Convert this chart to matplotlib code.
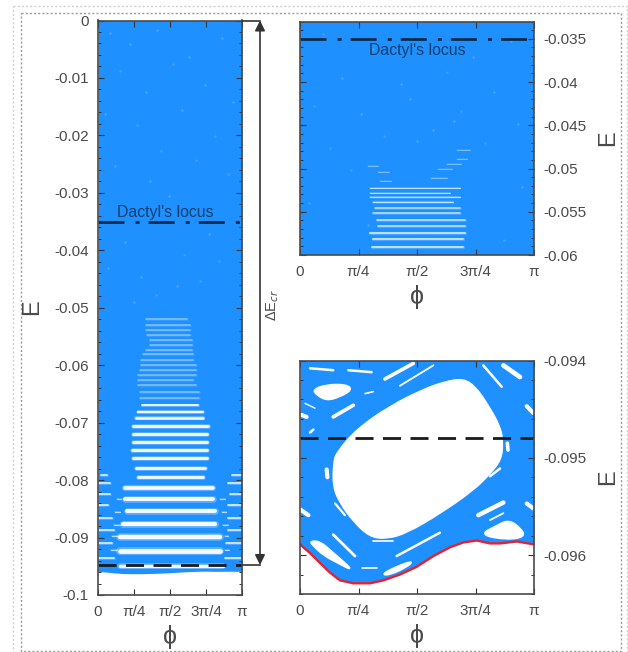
import numpy as np
from matplotlib import pyplot as plt
from matplotlib.lines import Line2D
from matplotlib.patches import PathPatch
from matplotlib.path import Path

plt.rcParams['font.family'] = ['Liberation Sans', 'DejaVu Sans']
plt.rcParams['axes.unicode_minus'] = False
plt.rcParams['lines.scale_dashes'] = False

W, H = 628, 652
BLUE = '#1e90ff'
GREY = '#4a4a4a'
DARK = '#10406e'

# x axis ticks, phi in units of pi
phi_ticks = [0, 0.25, 0.5, 0.75, 1]
phi_labels = ['0', 'π/4', 'π/2', '3π/4', 'π']

# y axis ticks
left_ticks = [0, -0.01, -0.02, -0.03, -0.04, -0.05, -0.06, -0.07, -0.08, -0.09, -0.1]
left_labels = ['0', '-0.01', '-0.02', '-0.03', '-0.04', '-0.05', '-0.06', '-0.07', '-0.08', '-0.09', '-0.1']
top_ticks = [-0.035, -0.04, -0.045, -0.05, -0.055, -0.06]
top_labels = ['-0.035', '-0.04', '-0.045', '-0.05', '-0.055', '-0.06']
bot_ticks = [-0.094, -0.095, -0.096]
bot_labels = ['-0.094', '-0.095', '-0.096']

dactyl_E = -0.035
ground_E = -0.0948

# lower edge of the chaotic sea (red curve)
edge_phi = [0, .043, .085, .128, .171, .228, .299, .356, .427, .499, .570, .641, .698, .755, .812, .855, .926, 1]
edge_E = [-.09589, -.09598, -.09608, -.09618, -.09626, -.09629, -.09629, -.09626, -.09620,
          -.09612, -.09601, -.09592, -.09587, -.09585, -.09588, -.09588, -.09586, -.09589]

# left panel, strong white bands: E, phi start, phi end
band_E = [-.06693, -.06809, -.06925, -.07058, -.07198, -.07331, -.07476, -.07621, -.07784, -.07940,
          -.08143, -.08335, -.08538, -.08770, -.08996, -.09234, -.09490]
band_a = [.303, .280, .262, .245, .245, .241, .238, .241, .262, .275, .188, .188, .199, .176, .153, .153, .15]
band_b = [.697, .731, .731, .766, .755, .755, .755, .755, .743, .731, .800, .800, .813, .813, .847, .847, .87]
band_lw = [1.3, 1.6, 1.8, 2.0, 2.0, 2.0, 2.0, 2.0, 2.0, 2.0, 2.6, 2.8, 2.8, 3.0, 3.2, 3.4, 2.4]

# left panel, faint bands
faint_E = [-.05196, -.05300, -.05387, -.05474, -.05561, -.05648, -.05735, -.05810, -.05909, -.05996,
           -.06083, -.06170, -.06257, -.06344, -.06460, -.06565]
faint_a = [.33, .33, .33, .34, .36, .36, .33, .31, .30, .30, .29, .28, .28, .28, .29, .29]
faint_b = [.62, .64, .64, .64, .65, .65, .65, .66, .66, .68, .68, .68, .66, .68, .70, .70]

# left panel, short streaks near both edges
side_E = [-.0791, -.08056, -.08240, -.08433, -.08654, -.08869, -.09100, -.09361]
side_a = [.02, .00, .01, .00, .00, .00, .00, .00]
side_b = [.06, .08, .08, .07, .10, .11, .10, .11]
side_c = [.93, .90, .92, .90, .90, .90, .89, .88]

# left panel, streaks between the edge ones and the bands
mid_E = [-.08330, -.08560, -.08780, -.08970, -.09220]
mid_a = [.13, .12, .11, .10, .09]
mid_b = [.16, .15, .15, .13, .13]
mid_c = [.85, .86, .87, .88, .88]
mid_d = [.88, .89, .90, .90, .91]

# top right panel, white bands
zoom_E = [-.05225, -.05282, -.05335, -.05386, -.05462, -.05520, -.05597, -.05666, -.05750, -.05819, -.05904]
zoom_a = [.299, .299, .299, .313, .320, .313, .328, .335, .299, .313, .306]
zoom_b = [.684, .641, .684, .655, .684, .684, .705, .705, .705, .698, .698]
zoom_lw = [.8, .8, .9, 1, 1.1, 1.1, 1.2, 1.2, 1.4, 1.4, 1.4]

# top right panel, fragments above the bands
frag_E = [-.04971, -.05040, -.05147, -.04790, -.04886, -.04944, -.05000, -.05113]
frag_a = [.292, .335, .340, .670, .670, .630, .590, .560]
frag_b = [.335, .380, .390, .725, .715, .690, .650, .630]

# light specks
speck_phi = [.08, .22, .41, .63, .86, .15, .52, .74, .33, .94, .05, .27, .58, .81, .44,
             .12, .68, .36, .90, .49, .19, .77, .60, .07, .30, .84, .55, .40, .71, .25]
speck_E = [-.0022, -.0041, -.0016, -.0063, -.0030, -.0088, -.0075, -.0112, -.0124, -.0141,
           -.0163, -.0182, -.0155, -.0201, -.0228, -.0254, -.0243, -.0279, -.0268, -.0306,
           -.0385, -.0372, -.0408, -.0431, -.0446, -.0419, -.0462, -.0478, -.0453, -.0490]
speck2_phi = [.10, .31, .52, .74, .90, .18, .43, .63, .83, .06, .26, .47, .69, .93, .36,
              .57, .13, .79, .22, .50, .66, .95, .04, .29, .87]
speck2_E = [-.0345, -.0362, -.0358, -.0371, -.0352, -.0395, -.0402, -.0388, -.0411, -.0428,
            -.0437, -.0420, -.0433, -.0449, -.0462, -.0455, -.0476, -.0470, -.0502, -.0468,
            -.0445, -.0521, -.0540, -.0565, -.0583]

# bottom right panel, main regular island
island_phi = [.620, .698, .748, .798, .855, .866, .858, .812, .741, .598, .456, .370, .299, .228, .171, .142, .145, .157, .242, .385, .527]
island_E = [-.09422, -.09419, -.09427, -.09444, -.09468, -.09485, -.09502, -.09516, -.09533, -.09557, -.09577,
            -.09583, -.09581, -.09565, -.09546, -.09529, -.09505, -.09495, -.09471, -.09447, -.09430]

# smaller islands
isle1_phi = [.057, .114, .199, .221, .171, .114, .071]
isle1_E = [-.09430, -.09425, -.09425, -.09430, -.09437, -.09441, -.09435]
isle2_phi = [.769, .841, .891, .940, .962, .883]
isle2_E = [-.09579, -.09570, -.09564, -.09572, -.09581, -.09584]
isle3_phi = [.043, .085, .142, .228, .171, .100, .057]
isle3_E = [-.09586, -.09586, -.09598, -.09616, -.09609, -.09600, -.09590]
isle4_phi = [.349, .413, .484, .456, .385]
isle4_E = [-.09620, -.09612, -.09606, -.09612, -.09620]

# thin islands: phi1, phi2, E1, E2, width
thin_p1 = [.363, .427, .413, .783, .869, .142, .150, .142, .043, .207, .762, .812, .812, .886, .114,
           .007, .000, .969, .969, .313, .263, .278, .043, .021]
thin_p2 = [.484, .570, .598, .862, .940, .235, .192, .228, .142, .306, .869, .869, .855, .889, .117,
           .028, .036, .997, .997, .399, .328, .313, .057, .064]
thin_E1 = [-.09419, -.09426, -.09601, -.09405, -.09405, -.09579, -.09547, -.09458, -.09408, -.09410,
           -.09559, -.09564, -.09519, -.09485, -.09512, -.09456, -.09553, -.09547, -.09447, -.09586,
           -.09613, -.09434, -.09474, -.09444]
thin_E2 = [-.09403, -.09405, -.09577, -.09427, -.09417, -.09601, -.09559, -.09446, -.09410, -.09412,
           -.09546, -.09557, -.09511, -.09492, -.09520, -.09458, -.09559, -.09552, -.09454, -.09586,
           -.09613, -.09432, -.09471, -.09449]
thin_w = [2.6, 1.3, 1.8, 1.8, 3.4, 2, 1.6, 2.6, 1.8, 1.8, 3.2, 1.3, 1.8, 2.6, 3, 3, 3, 3, 3, 1.2, 1.2, 1.2, 1.8, 1]


def ax_px(x0, y0, x1, y1):
    return fig.add_axes([x0 / W, 1 - y1 / H, (x1 - x0) / W, (y1 - y0) / H])


def txt(x, y, s, **kw):
    fig.text(x / W, 1 - y / H, s, ha='center', va='center', **kw)


def setup(ax, ylim, ticks, labels, minor, right):
    ax.set_xlim(0, 1)
    ax.set_ylim(*ylim)
    ax.set_xticks(phi_ticks)
    ax.set_xticklabels(phi_labels)
    ax.set_yticks(ticks)
    ax.set_yticklabels(labels)
    ax.set_yticks(minor, minor=True)
    ax.tick_params(which='major', direction='in', top=True, right=True, length=4.5, width=0.8,
                   color='#333333', labelcolor=GREY, labelsize=11, pad=6.5, zorder=6)
    ax.tick_params(which='minor', direction='in', left=True, right=True, length=2.2, width=0.7, color='#333333')
    ax.tick_params(axis='x', pad=7)
    if right:
        ax.yaxis.tick_right()
        ax.tick_params(axis='y', which='both', left=True, right=True)
    for spine in ax.spines.values():
        spine.set_color(GREY)
        spine.set_linewidth(1.2)
        spine.set_zorder(7)


def soft(ax, a, b, e, lw, alpha=0.95):
    # soft edged white streak, the source figure is a blurred bitmap
    ax.plot([a, b], [e, e], color='white', lw=lw * 1.7, alpha=alpha * 0.3, zorder=3, solid_capstyle='round')
    ax.plot([a, b], [e, e], color='white', lw=lw, alpha=alpha, zorder=3, solid_capstyle='round')


def locus(ax):
    ax.plot([0, 1], [dactyl_E, dactyl_E], color='#0b2a4a', lw=2, zorder=5,
            dashes=(18.7, 8, 2.9, 6.5), dash_capstyle='butt')


def ground(ax):
    ax.plot([0, 1], [ground_E, ground_E], color='#1a1a1a', lw=2, zorder=5,
            dashes=(13, 6.8), dash_capstyle='butt')


def smooth_patch(px, py):
    # closed curve through the midpoints, read points act as control points
    pts = np.column_stack([px, py])
    mids = (pts + np.roll(pts, -1, axis=0)) / 2
    verts = [mids[-1]]
    codes = [Path.MOVETO]
    for p, m in zip(pts, mids):
        verts += [p, m]
        codes += [Path.CURVE3, Path.CURVE3]
    return PathPatch(Path(verts, codes), fc='white', ec='white', lw=1.6, joinstyle='round', zorder=2)


fig = plt.figure(figsize=(W / 100, H / 100), dpi=100)

# ---------- left panel ----------
ax1 = ax_px(98, 20.5, 242, 595)
ax1.fill_between(edge_phi, edge_E, 0, color=BLUE, lw=0, zorder=1)
ax1.scatter(speck_phi, speck_E, s=3, color='white', alpha=0.18, lw=0, zorder=2)
for e, a, b in zip(faint_E, faint_a, faint_b):
    soft(ax1, a, b, e, 1.1, 0.4)
for e, a, b, lw in zip(band_E, band_a, band_b, band_lw):
    soft(ax1, a, b, e, lw)
for e, a, b, c in zip(side_E, side_a, side_b, side_c):
    soft(ax1, a, b, e, 1.2, 0.8)
    soft(ax1, c, 1, e, 1.2, 0.8)
for e, a, b, c, d in zip(mid_E, mid_a, mid_b, mid_c, mid_d):
    soft(ax1, a, b, e, 0.9, 0.6)
    soft(ax1, c, d, e, 0.9, 0.6)
locus(ax1)
ground(ax1)
ax1.text(0.47, -0.0334, "Dactyl's locus", color=DARK, fontsize=11.4, ha='center', va='center', zorder=5)
setup(ax1, (-0.1, 0), left_ticks, left_labels, np.arange(-0.1, 0.0001, 0.002), False)

# ---------- top right panel ----------
ax2 = ax_px(300, 21.5, 534, 255)
ax2.fill_between([0, 1], -0.06, -0.033, color=BLUE, lw=0, zorder=1)
ax2.scatter(speck2_phi, speck2_E, s=3, color='white', alpha=0.18, lw=0, zorder=2)
for e, a, b, lw in zip(zoom_E, zoom_a, zoom_b, zoom_lw):
    soft(ax2, a, b, e, lw, 0.65)
for e, a, b in zip(frag_E, frag_a, frag_b):
    soft(ax2, a, b, e, 0.8, 0.35)
locus(ax2)
ax2.text(0.5, -0.0363, "Dactyl's locus", color=DARK, fontsize=11.4, ha='center', va='center', zorder=5)
setup(ax2, (-0.06, -0.033), top_ticks, top_labels, np.arange(-0.06, -0.0329, 0.001), True)

# ---------- bottom right panel ----------
ax3 = ax_px(300, 360.5, 534, 594)
ax3.fill_between(edge_phi, edge_E, -0.094, color=BLUE, lw=0, zorder=1)
for px, py in [(island_phi, island_E), (isle1_phi, isle1_E), (isle2_phi, isle2_E),
               (isle3_phi, isle3_E), (isle4_phi, isle4_E)]:
    ax3.add_patch(smooth_patch(px, py))
for p1, p2, e1, e2, w in zip(thin_p1, thin_p2, thin_E1, thin_E2, thin_w):
    ax3.plot([p1, p2], [e1, e2], color='white', lw=w, zorder=2, solid_capstyle='round')
ax3.plot(edge_phi, edge_E, color='#e8202c', lw=1.7, zorder=4)
ground(ax3)
setup(ax3, (-0.0964, -0.094), bot_ticks, bot_labels, np.arange(-0.0964, -0.09399, 0.0002), True)

# ---------- axis titles ----------
txt(32, 307, 'E', color=GREY, fontsize=17, rotation=90)
txt(608, 138, 'E', color=GREY, fontsize=17, rotation=90)
txt(608, 477, 'E', color=GREY, fontsize=17, rotation=90)
txt(170, 637, 'ϕ', color=GREY, fontsize=18)
txt(417, 297, 'ϕ', color=GREY, fontsize=18)
txt(417, 636, 'ϕ', color=GREY, fontsize=18)
txt(273, 305, 'ΔE$_{cr}$', color=GREY, fontsize=10.5, rotation=90)

# ---------- delta E arrow, spans the figure so use figure coords ----------
ax1.annotate('', xy=(260 / W, 1 - 20.5 / H), xytext=(260 / W, 1 - 565 / H), xycoords='figure fraction',
             textcoords='figure fraction',
             arrowprops=dict(arrowstyle='<|-|>', color='#333333', lw=1.2, mutation_scale=15,
                             shrinkA=0, shrinkB=0))
for y in (20.5, 565):
    fig.add_artist(Line2D([242 / W, 260 / W], [1 - y / H, 1 - y / H], color='#333333', lw=1.2))

# ---------- dotted page frames ----------
def frame(x0, y0, x1, y1, color):
    xs = np.array([x0, x1, x1, x0, x0]) / W
    ys = 1 - np.array([y0, y0, y1, y1, y0]) / H
    fig.add_artist(Line2D(xs, ys, color=color, lw=1, dashes=(1.5, 1.5)))


frame(12.5, 5.5, 627, 655, '#d0d0d0')
frame(20.5, 13, 621, 650.5, '#9a9a9a')

plt.savefig('out.png', dpi=100)
